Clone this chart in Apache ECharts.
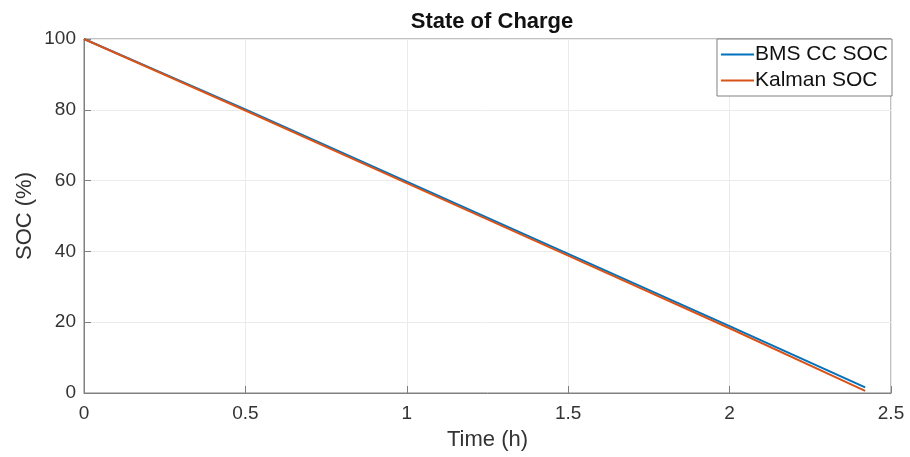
<!DOCTYPE html>
<html><head><meta charset="utf-8">
<script src="https://cdn.jsdelivr.net/npm/echarts@6/dist/echarts.min.js"></script>
<style>html,body{margin:0;padding:0;background:#fff}#c{width:910px;height:457px}</style>
</head><body><div id="c"></div>
<script>
const timeH = [0, 0.5, 1, 1.5, 2, 2.42];
const bmsSoc = [100, 80.1, 59.7, 39.3, 18.9, 1.6];
const kalmanSoc = [100, 79.8, 59.3, 38.8, 18.3, 0.6];
const xTicks = [0, 0.5, 1, 1.5, 2, 2.5];
const yTicks = [0, 20, 40, 60, 80, 100];

const chart = echarts.init(document.getElementById('c'), null, {renderer: 'canvas'});
const font = 'Liberation Sans, Arial, sans-serif';
const axisCommon = {
  axisLine: {show: true, lineStyle: {color: '#808080', width: 1}},
  axisTick: {show: true, inside: true, length: 7, lineStyle: {color: '#808080'}},
  splitLine: {show: true, lineStyle: {color: '#ebebeb', width: 1}},
  axisLabel: {color: '#333', fontSize: 19, fontFamily: font},
  nameTextStyle: {color: '#333', fontSize: 22, fontFamily: font}
};
chart.setOption({
  animation: false,
  backgroundColor: '#fff',
  title: {text: 'State of Charge', left: 487, textAlign: 'center', top: 6,
    textStyle: {fontSize: 22, fontWeight: 'bold', color: '#111', fontFamily: font}},
  grid: {left: 84, right: 19, top: 39, bottom: 64, show: true, borderColor: '#808080', borderWidth: 1,
    containLabel: false, outerBoundsMode: 'none'},
  legend: {
    orient: 'vertical', right: 18, top: 39, backgroundColor: '#fff',
    borderColor: '#808080', borderWidth: 1, padding: [5, 4, 5, 4], itemGap: 5,
    itemWidth: 33, itemHeight: 2, icon: 'rect',
    textStyle: {fontSize: 21, color: '#111', fontFamily: font, padding: [0, 0, 0, -4]},
    data: ['BMS CC SOC', 'Kalman SOC']
  },
  xAxis: Object.assign({type: 'value', min: 0, max: 2.5, interval: 0.5, name: 'Time (h)',
    nameLocation: 'middle', nameGap: 36, nameMoveOverlap: false}, axisCommon,
    {axisLabel: Object.assign({}, axisCommon.axisLabel, {margin: 11, formatter: v => String(v)})}),
  yAxis: Object.assign({type: 'value', min: 0, max: 100, interval: 20, name: 'SOC (%)',
    nameLocation: 'middle', nameGap: 48, nameMoveOverlap: false}, axisCommon,
    {axisLabel: Object.assign({}, axisCommon.axisLabel, {margin: 8})}),
  series: [
    {name: 'BMS CC SOC', type: 'line', showSymbol: false, symbol: 'none',
     data: timeH.map((t, i) => [t, bmsSoc[i]]), lineStyle: {color: '#0072BD', width: 2}, itemStyle: {color: '#0072BD'}},
    {name: 'Kalman SOC', type: 'line', showSymbol: false, symbol: 'none',
     data: timeH.map((t, i) => [t, kalmanSoc[i]]), lineStyle: {color: '#D95319', width: 2}, itemStyle: {color: '#D95319'}}
  ]
});
</script></body></html>
